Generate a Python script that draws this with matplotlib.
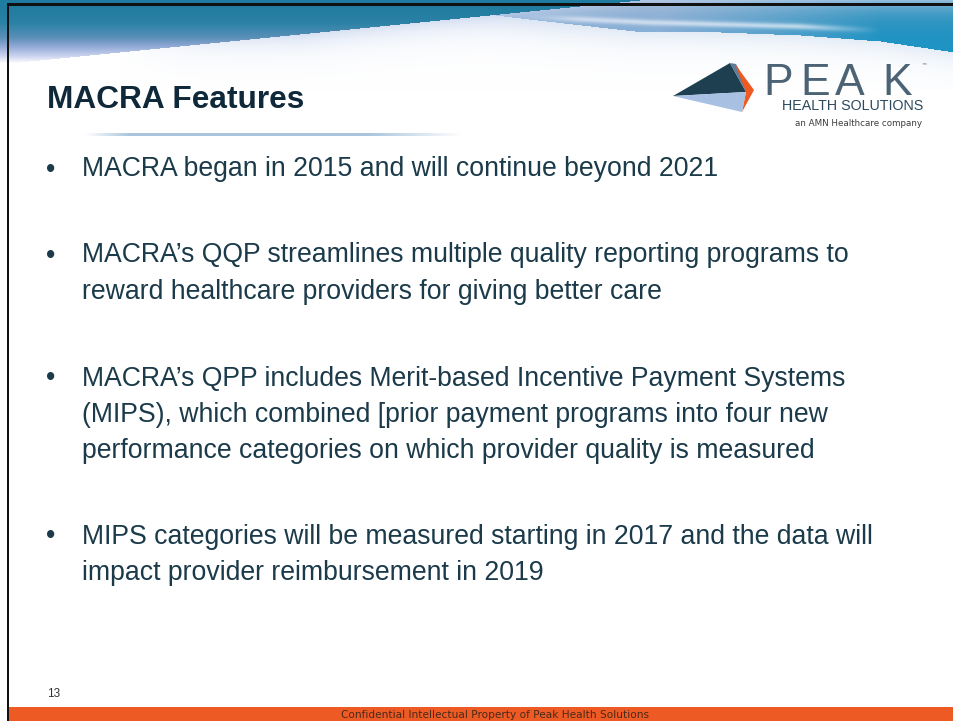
import numpy as np
import matplotlib
matplotlib.use("Agg")
import matplotlib.pyplot as plt
from matplotlib.patches import Polygon, Rectangle

# ---- content ----
title = "MACRA Features"
bullets = [
    ["MACRA began in 2015 and will continue beyond 2021"],
    ["MACRA\u2019s QQP streamlines multiple quality reporting programs to",
     "reward healthcare providers for giving better care"],
    ["MACRA\u2019s QPP includes Merit-based Incentive Payment Systems",
     "(MIPS), which combined [prior payment programs into four new",
     "performance categories on which provider quality is measured"],
    ["MIPS categories will be measured starting in 2017 and the data will",
     "impact provider reimbursement in 2019"],
]
bullet_tops = [169, 255, 378, 536]
page_number = "13"
footer = "Confidential Intellectual Property of Peak Health Solutions"
logo_word = ["P", "E", "A", "K"]
logo_sub = "HEALTH SOLUTIONS"
logo_tag = "an AMN Healthcare company"

W, H = 954, 721
fig = plt.figure(figsize=(W / 100, H / 100), dpi=100)
ax = fig.add_axes([0, 0, 1, 1])
ax.set_xlim(0, W)
ax.set_ylim(H, 0)
ax.axis("off")

def hexrgb(h):
    h = h.lstrip("#")
    return np.array([int(h[i:i + 2], 16) for i in (0, 2, 4)]) / 255.0

# ---- banner image ----
BH = 90
yy, xx = np.mgrid[0:BH, 0:W].astype(float)
img = np.ones((BH, W, 3))

def blend(mask_f, col):
    global img
    f = np.clip(mask_f, 0, 1)[..., None]
    img = img * (1 - f) + col[None, None, :] * f

# region B (right, cyan)
edgeB = np.interp(xx[0], [0, 420, 520, 634, 720, 800, 880, 954],
                  [0, 6, 18, 31, 32, 35, 41, 52])
edgeB2 = np.tile(edgeB, (BH, 1))
colL = hexrgb("#88b2db")
colR = hexrgb("#1b93c4")
tx = np.clip((xx - 660) / 220, 0, 1)[..., None]
colB = colL[None, None, :] * (1 - tx) + colR[None, None, :] * tx
shade = 1 - 0.08 * np.clip(1 - (yy - 5) / 40, 0, 1)[..., None]
colB = colB * shade
inB = (yy < edgeB2)
img = np.where(inB[..., None], colB, img)
# soft glow under B
dB = yy - edgeB2
glowB = np.where(dB >= 0, 0.45 * np.exp(-dB / 14), 0) * np.clip((xx - 400) / 150, 0, 1)
blend(glowB, hexrgb("#c4d6ec"))
# white streak in B
streak_y = np.interp(xx, [520, 650, 800, 880], [16, 22, 26, 30])
streak = 0.7 * np.exp(-((yy - streak_y) / 3.0) ** 2) * np.clip((880 - xx) / 80, 0, 1) * np.clip((xx - 520) / 60, 0, 1)
blend(streak * inB, hexrgb("#eef3fa"))

# region A (left, teal)
edgeA = np.clip(64 - 0.1 * xx, 0, None)
t = np.clip((yy - 5) / 58.0, 0, 1)
stops_t = [0.0, 0.3, 0.55, 0.7, 0.87, 1.0]
stops_c = [hexrgb(c) for c in ["#1f7b9f", "#2b82a6", "#5a8fb8", "#8fa8d4", "#cbd3ef", "#ffffff"]]
colA = np.stack([np.interp(t, stops_t, [c[k] for c in stops_c]) for k in range(3)], axis=-1)
inA = yy < edgeA
img = np.where(inA[..., None], colA, img)
dA = yy - edgeA
glowA = np.where(dA >= 0, 0.7 * np.exp(-dA / 13), 0) * np.clip((xx - 120) / 180, 0, 1)
blend(glowA, hexrgb("#c6d4ee"))

ax.imshow(img, extent=(0, W, BH, 0), origin="upper", aspect="auto",
          interpolation="bilinear", zorder=0)

# ---- divider line ----
lx0, lx1 = 85, 462
grad = np.linspace(0, 1, 400)
alpha = np.clip(np.minimum(grad / 0.12, (1 - grad) / 0.25), 0, 1)
line = np.zeros((1, 400, 4))
line[..., :3] = hexrgb("#a9c4dc")
line[..., 3] = alpha
ax.imshow(line, extent=(lx0, lx1, 136.2, 133.8), aspect="auto", zorder=1,
          interpolation="bilinear")

# ---- borders ----
ax.add_patch(Rectangle((7, 3), W - 7, 2.5, color="#111111", zorder=5, lw=0))
ax.add_patch(Rectangle((7, 3), 2.5, H - 3, color="#111111", zorder=5, lw=0))

# ---- footer bar ----
ax.add_patch(Rectangle((9, 707), W - 9, 14, color="#ee5a24", zorder=4, lw=0))
ax.text(495, 714.5, footer, ha="center", va="center", fontsize=7.6,
        family=["Liberation Sans Narrow", "DejaVu Sans"], color="#4a2a1a", zorder=6)

# ---- title ----
text_col = "#1b3a4a"
ax.text(47, 108, title, ha="left", va="baseline", fontsize=22.8, fontweight="bold",
        family="Liberation Sans", color="#10293a", zorder=6)

# ---- bullets ----
lh = 36.5
for top, lines in zip(bullet_tops, bullets):
    ax.text(46, top + 7.5, "\u2022", ha="left", va="baseline", fontsize=19.2,
            family="Liberation Sans", color=text_col, zorder=6)
    for i, ln in enumerate(lines):
        ax.text(82, top + 7.5 + i * lh, ln, ha="left", va="baseline", fontsize=19.2,
                family="Liberation Sans", color=text_col, zorder=6)

# ---- page number ----
ax.text(47, 697, page_number, ha="left", va="baseline", fontsize=8.5,
        family="Liberation Sans", color="#333333", zorder=6)

# ---- logo ----
ax.add_patch(Polygon([(673, 96), (730, 63), (746, 92)], closed=True,
                     color="#1d3f4f", lw=0, zorder=6))
ax.add_patch(Polygon([(730, 63), (736, 64), (750, 90), (746, 92)], closed=True,
                     color="#5d7c98", lw=0, zorder=6))
ax.add_patch(Polygon([(735, 64), (754, 90), (742, 112), (746, 92)], closed=True,
                     color="#ef5a22", lw=0, zorder=6))
ax.add_patch(Polygon([(673, 96), (746, 92), (742, 112)], closed=True,
                     color="#a8c1e2", lw=0, zorder=6))
letter_x = [763, 800, 835, 882]
for lx, ch in zip(letter_x, logo_word):
    ax.text(lx, 95, ch, ha="left", va="baseline", fontsize=32,
            family="Liberation Sans", color="#4b6374", zorder=6)
ax.text(921, 64, "\u2122", ha="left", va="top", fontsize=4,
        family="DejaVu Sans", color="#4b6374", zorder=6)
ax.text(923, 110, logo_sub, ha="right", va="baseline", fontsize=10.3,
        family="Liberation Sans", color="#2c4a5e", zorder=6)
ax.text(922, 126, logo_tag, ha="right", va="baseline", fontsize=6.3,
        family=["Liberation Sans Narrow", "DejaVu Sans"], color="#3d3d3d", zorder=6)

fig.savefig("out.png", dpi=100, facecolor="white")
